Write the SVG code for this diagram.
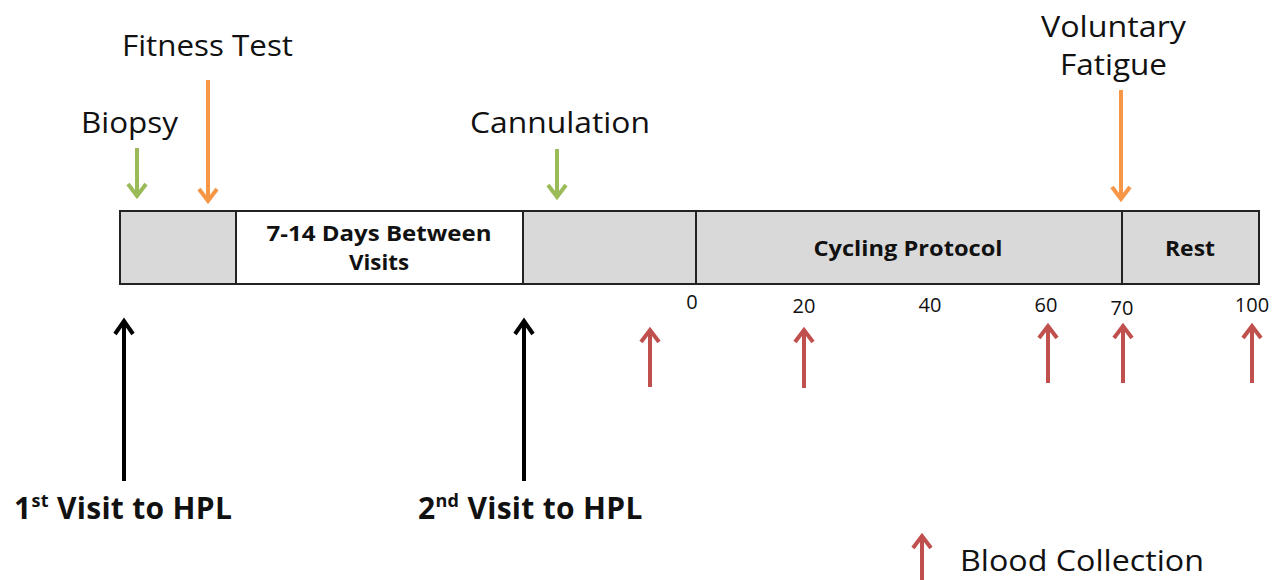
<svg xmlns="http://www.w3.org/2000/svg" width="1285" height="580" viewBox="0 0 1285 580">
<style>
.lbl{font-family:"Open Sans","Liberation Sans",sans-serif;font-size:29px;fill:#111}
.box{stroke:#222;stroke-width:2}
.bl{font-family:"Open Sans","Liberation Sans",sans-serif;font-size:22px;font-weight:bold;fill:#111;text-anchor:middle}
.num{font-family:"Open Sans","Liberation Sans",sans-serif;font-size:20px;fill:#111;text-anchor:middle}
.big{font-family:"Open Sans","Liberation Sans",sans-serif;font-size:30px;font-weight:bold;fill:#111;letter-spacing:0.3px}
.ar{fill:none;stroke-width:4;stroke-linecap:butt;stroke-linejoin:miter}
.g{stroke:#9BBB59}.o{stroke:#F79646}.r{stroke:#C0504D}.k{stroke:#000}
</style>
<rect width="1285" height="580" fill="#fff"/>
<g id="timeline">
<g id="box1"><rect class="box" x="120" y="211" width="116" height="73" fill="#D9D9D9"/></g>
<g id="box2"><rect class="box" x="236" y="211" width="287" height="73" fill="#fff"/>
<text class="bl" x="379" y="241" textLength="225" lengthAdjust="spacingAndGlyphs">7-14 Days Between</text><text class="bl" x="379" y="270" textLength="60" lengthAdjust="spacingAndGlyphs">Visits</text></g>
<g id="box3"><rect class="box" x="523" y="211" width="173" height="73" fill="#D9D9D9"/></g>
<g id="box4"><rect class="box" x="696" y="211" width="426" height="73" fill="#D9D9D9"/><text class="bl" x="908" y="256" textLength="189" lengthAdjust="spacingAndGlyphs">Cycling Protocol</text></g>
<g id="box5"><rect class="box" x="1122" y="211" width="137" height="73" fill="#D9D9D9"/><text class="bl" x="1190" y="256" textLength="50" lengthAdjust="spacingAndGlyphs">Rest</text></g>
</g>
<g id="labels">
<text class="lbl" x="122" y="56" textLength="171" lengthAdjust="spacingAndGlyphs">Fitness Test</text>
<text class="lbl" x="81" y="133" textLength="97" lengthAdjust="spacingAndGlyphs">Biopsy</text>
<text class="lbl" x="470" y="133" textLength="180" lengthAdjust="spacingAndGlyphs">Cannulation</text>
<text class="lbl" x="1041" y="37" textLength="145" lengthAdjust="spacingAndGlyphs">Voluntary</text>
<text class="lbl" x="1060" y="75" textLength="107" lengthAdjust="spacingAndGlyphs">Fatigue</text>
<text class="num" x="692" y="309">0</text>
<text class="num" x="804" y="313">20</text>
<text class="num" x="930" y="312">40</text>
<text class="num" x="1046" y="312">60</text>
<text class="num" x="1122" y="315">70</text>
<text class="num" x="1252" y="312">100</text>
<text class="big" x="14" y="519">1<tspan font-size="18" dy="-12">st</tspan><tspan dy="12"> Visit to HPL</tspan></text>
<text class="big" x="418" y="519">2<tspan font-size="18" dy="-12">nd</tspan><tspan dy="12"> Visit to HPL</tspan></text>
<text class="lbl" x="960" y="571" textLength="244" lengthAdjust="spacingAndGlyphs">Blood Collection</text>
</g>
<g id="connectors">
<path class="ar g" d="M137 148V196M128 184L137 196L146 184"/>
<path class="ar o" d="M208 80V201M199 189L208 201L217 189"/>
<path class="ar g" d="M557 149V197M548 185L557 197L566 185"/>
<path class="ar o" d="M1121 90V199M1112 187L1121 199L1130 187"/>
<path class="ar k" d="M124 481V321M115 334L124 321L133 334"/>
<path class="ar k" d="M524 481V321M515 334L524 321L533 334"/>
<path class="ar r" d="M650 387V330M641 342L650 330L659 342"/>
<path class="ar r" d="M804 388V330M795 342L804 330L813 342"/>
<path class="ar r" d="M1048 383V326M1039 338L1048 326L1057 338"/>
<path class="ar r" d="M1123 383V326M1114 338L1123 326L1132 338"/>
<path class="ar r" d="M1252 383V326M1243 338L1252 326L1261 338"/>
<path class="ar r" d="M922 580V536M913 548L922 536L931 548"/>
</g>
</svg>
